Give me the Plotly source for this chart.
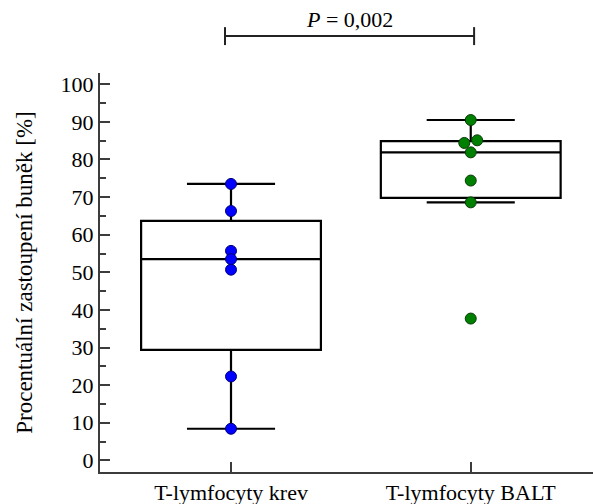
import plotly.graph_objects as go

categories = ["T-lymfocyty krev", "T-lymfocyty BALT"]
krev_values = [73.5, 66.3, 55.7, 53.5, 50.7, 22.3, 8.4]
balt_values = [90.5, 85.1, 84.4, 81.9, 74.4, 68.6, 37.7]

q1 = [29.4, 69.8]
median = [53.5, 81.9]
q3 = [63.7, 84.9]
lower_fence = [8.4, 68.6]
upper_fence = [73.5, 90.5]

point_colors = ["#0000FF", "#008000"]
point_edges = ["#00007a", "#0a3a0a"]

p_text = "<i>P</i> = 0,002"

FONT = "Liberation Serif"
AXIS_COLOR = "#3c3c3c"


def dodge(vals, center, thresh=1.5, step=0.027):
    xs = [center] * len(vals)
    used = set()
    for i in range(len(vals)):
        if i in used:
            continue
        grp = [i]
        for j in range(i + 1, len(vals)):
            if j not in used and abs(vals[j] - vals[i]) < thresh:
                grp.append(j)
        if len(grp) > 1:
            n = len(grp)
            for k, idx in enumerate(sorted(grp, key=lambda g: vals[g])):
                xs[idx] = center + (k - (n - 1) / 2) * 2 * step
                used.add(idx)
    return xs


fig = go.Figure()
fig.add_trace(go.Box(
    x=[0, 1],
    q1=q1, median=median, q3=q3,
    lowerfence=lower_fence, upperfence=upper_fence,
    boxpoints=False,
    width=0.75,
    line=dict(color="black", width=2.2),
    fillcolor="rgba(255,255,255,0)",
    whiskerwidth=0.49,
    showlegend=False,
    hoverinfo="skip",
))

for i, vals in enumerate([krev_values, balt_values]):
    fig.add_trace(go.Scatter(
        x=dodge(vals, i), y=vals, mode="markers",
        marker=dict(size=11, color=point_colors[i],
                    line=dict(color=point_edges[i], width=1)),
        showlegend=False,
    ))

fig.update_layout(
    width=593, height=504,
    margin=dict(l=100, r=0, t=73, b=32),
    paper_bgcolor="white", plot_bgcolor="white",
    font=dict(family=FONT, color="black"),
    xaxis=dict(
        range=[-0.5465, 1.51],
        tickvals=[0, 1], ticktext=categories,
        ticks="inside", ticklen=10, tickwidth=2, tickcolor=AXIS_COLOR,
        showline=True, linecolor=AXIS_COLOR, linewidth=2,
        showgrid=False, zeroline=False,
        tickfont=dict(size=22, family=FONT),
    ),
    yaxis=dict(
        range=[-3.1, 103],
        tickvals=list(range(0, 101, 10)),
        ticks="inside", ticklen=10, tickwidth=2, tickcolor=AXIS_COLOR,
        minor=dict(ticks="inside", ticklen=6, tickwidth=2, tickcolor=AXIS_COLOR, dtick=5, tick0=0),
        showline=True, linecolor=AXIS_COLOR, linewidth=2,
        showgrid=False, zeroline=False,
        tickfont=dict(size=22, family=FONT),
        title=dict(text="Procentuální zastoupení buněk [%]", font=dict(size=23, family=FONT), standoff=22),
    ),
)

# significance bracket
xl, xr = -0.025, 1.014
yb = 1.0927
fig.add_shape(type="line", xref="x", yref="paper", x0=xl, x1=xr, y0=yb, y1=yb,
              line=dict(color="#222222", width=2))
for xe in (xl, xr):
    fig.add_shape(type="line", xref="x", yref="paper", x0=xe, x1=xe, y0=1.070, y1=1.115,
                  line=dict(color="#222222", width=2))
fig.add_annotation(x=(xl + xr) / 2, y=1.1353, xref="x", yref="paper", text=p_text,
                   showarrow=False, font=dict(size=22, family=FONT), yanchor="middle")

fig.write_html("out.html")
